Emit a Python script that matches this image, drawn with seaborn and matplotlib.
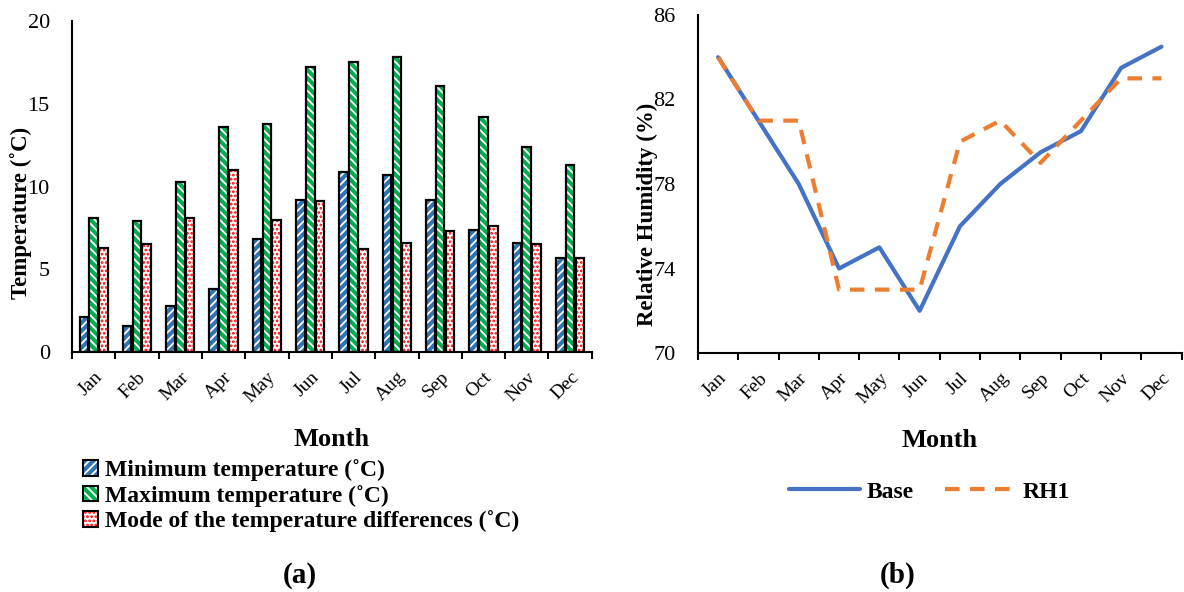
import numpy as np
import pandas as pd
import seaborn as sns
import matplotlib
matplotlib.use("Agg")
import matplotlib.pyplot as plt
from matplotlib.patches import Rectangle, Patch
from matplotlib.lines import Line2D
from matplotlib.legend_handler import HandlerTuple

months = ["Jan", "Feb", "Mar", "Apr", "May", "Jun", "Jul", "Aug", "Sep", "Oct", "Nov", "Dec"]
t_min = [2.1, 1.6, 2.8, 3.8, 6.8, 9.2, 10.9, 10.7, 9.2, 7.4, 6.6, 5.7]
t_max = [8.1, 7.9, 10.3, 13.6, 13.8, 17.2, 17.5, 17.8, 16.1, 14.2, 12.4, 11.3]
t_mode = [6.3, 6.5, 8.1, 11.0, 8.0, 9.1, 6.2, 6.6, 7.3, 7.6, 6.5, 5.7]
series_names = ["Minimum temperature (˚C)", "Maximum temperature (˚C)",
                "Mode of the temperature differences (˚C)"]

rh_base = [84, 81, 78, 74, 75, 72, 76, 78, 79.5, 80.5, 83.5, 84.5]
rh_rh1 = [84, 81, 81, 73, 73, 73, 80, 81, 79, 81, 83, 83]

sns.set_theme(style="white")
plt.rcParams["font.family"] = ["Liberation Serif", "DejaVu Serif"]
plt.rcParams["hatch.linewidth"] = 1.3
for k in ["text.color", "axes.labelcolor", "xtick.color", "ytick.color"]:
    plt.rcParams[k] = "black"

fig = plt.figure(figsize=(11.84, 5.92), dpi=100)
ax1 = fig.add_axes([0.0608, 0.4054, 0.439, 0.559])
ax2 = fig.add_axes([0.5895, 0.4037, 0.4085, 0.571])

# ---------- (a) bar chart ----------
df = pd.DataFrame({
    "Month": months * 3,
    "Series": sum([[s] * 12 for s in series_names], []),
    "Value": t_min + t_max + t_mode,
})
sns.barplot(data=df, x="Month", y="Value", hue="Series", order=months,
            hue_order=series_names, width=0.68, gap=0.12, ax=ax1, legend=False)

styles = [
    dict(face="#2E75B6", hatch="////", hc="white"),
    dict(face="#00B050", hatch="\\\\\\\\", hc="white"),
    dict(face="white", hatch="....", hc="#FF0000"),
]
for cont, st in zip(ax1.containers, styles):
    for p in cont.patches:
        p.set_facecolor(st["face"])
        p.set_hatch(st["hatch"])
        p.set_edgecolor(st["hc"])
        p.set_linewidth(0)
        x, y = p.get_xy()
        ax1.add_patch(Rectangle((x, y), p.get_width(), p.get_height(), fill=False,
                                edgecolor="black", linewidth=1.6, zorder=p.get_zorder() + 0.1))

ax1.set_ylim(0, 20)
ax1.set_xlim(-0.5, 11.5)
ax1.set_yticks([0, 5, 10, 15, 20])
ax1.set_yticklabels(["0", "5", "10", "15", "20"], fontsize=16)
ax1.set_xticks(range(12))
ax1.set_xticklabels(months, rotation=45, fontsize=14, ha="right", rotation_mode="anchor")
ax1.set_xticks(np.arange(-0.5, 12, 1), minor=True)
ax1.tick_params(axis="x", which="major", length=0, pad=12)
ax1.tick_params(axis="x", which="minor", length=5, width=1.5, color="black", direction="out", bottom=True)
ax1.tick_params(axis="y", length=0, pad=16)
for s in ["top", "right"]:
    ax1.spines[s].set_visible(False)
for s in ["left", "bottom"]:
    ax1.spines[s].set_color("black")
    ax1.spines[s].set_linewidth(1.5)
ax1.set_xlabel("Month", fontsize=19, fontweight="bold", labelpad=16)
ax1.set_ylabel("Temperature (˚C)", fontsize=16.5, fontweight="bold")
ax1.yaxis.set_label_coords(-0.077, 0.42)

handles = []
for st in styles:
    h1 = Patch(facecolor=st["face"], hatch=st["hatch"], edgecolor=st["hc"], linewidth=0)
    h2 = Patch(fill=False, edgecolor="black", linewidth=1.5)
    handles.append((h1, h2))
fig.legend(handles, series_names, loc="upper left", bbox_to_anchor=(0.062, 0.24),
           frameon=False, prop=dict(size=17, weight="bold"), handlelength=0.65,
           handleheight=0.65, handletextpad=0.3, labelspacing=0.15, borderaxespad=0,
           handler_map={tuple: HandlerTuple(ndivide=1)})

# ---------- (b) line chart ----------
ld = pd.DataFrame({"x": list(range(12)) * 2, "RH": rh_base + rh_rh1,
                   "Series": ["Base"] * 12 + ["RH1"] * 12})
sns.lineplot(data=ld[ld.Series == "Base"], x="x", y="RH", ax=ax2, color="#4472C4",
             linewidth=3, legend=False)
sns.lineplot(data=ld[ld.Series == "RH1"], x="x", y="RH", ax=ax2, color="#ED7D31",
             linewidth=3, linestyle=(0, (3.5, 2.5)), legend=False)
ax2.set_ylim(70, 86)
ax2.set_xlim(-0.5, 11.5)
ax2.set_yticks([70, 74, 78, 82, 86])
ax2.set_yticklabels(["70", "74", "78", "82", "86"], fontsize=16)
ax2.set_xticks(range(12))
ax2.set_xticklabels(months, rotation=45, fontsize=14, ha="right", rotation_mode="anchor")
ax2.set_xticks(np.arange(-0.5, 12, 1), minor=True)
ax2.tick_params(axis="x", which="major", length=0, pad=12)
ax2.tick_params(axis="x", which="minor", length=5, width=1.5, color="black", direction="out", bottom=True)
ax2.tick_params(axis="y", length=0, pad=16)
for s in ["top", "right"]:
    ax2.spines[s].set_visible(False)
for s in ["left", "bottom"]:
    ax2.spines[s].set_color("black")
    ax2.spines[s].set_linewidth(1.5)
ax2.set_xlabel("Month", fontsize=19, fontweight="bold", labelpad=16)
ax2.set_ylabel("Relative Humidity (%)", fontsize=16.5, fontweight="bold")
ax2.yaxis.set_label_coords(-0.083, 0.41)

lh = [Line2D([], [], color="#4472C4", linewidth=3),
      Line2D([], [], color="#ED7D31", linewidth=3, linestyle=(0, (3.5, 2.5)))]
fig.legend(lh, ["Base", "RH1"], loc="center", bbox_to_anchor=(0.785, 0.169), ncol=2,
           frameon=False, prop=dict(size=17, weight="bold"), handlelength=3.0,
           columnspacing=1.3, handletextpad=0.3)

fig.text(0.253, 0.028, "(a)", fontsize=21, fontweight="bold", ha="center", va="center")
fig.text(0.758, 0.028, "(b)", fontsize=21, fontweight="bold", ha="center", va="center")

fig.savefig("out.png", dpi=100, facecolor="white")
